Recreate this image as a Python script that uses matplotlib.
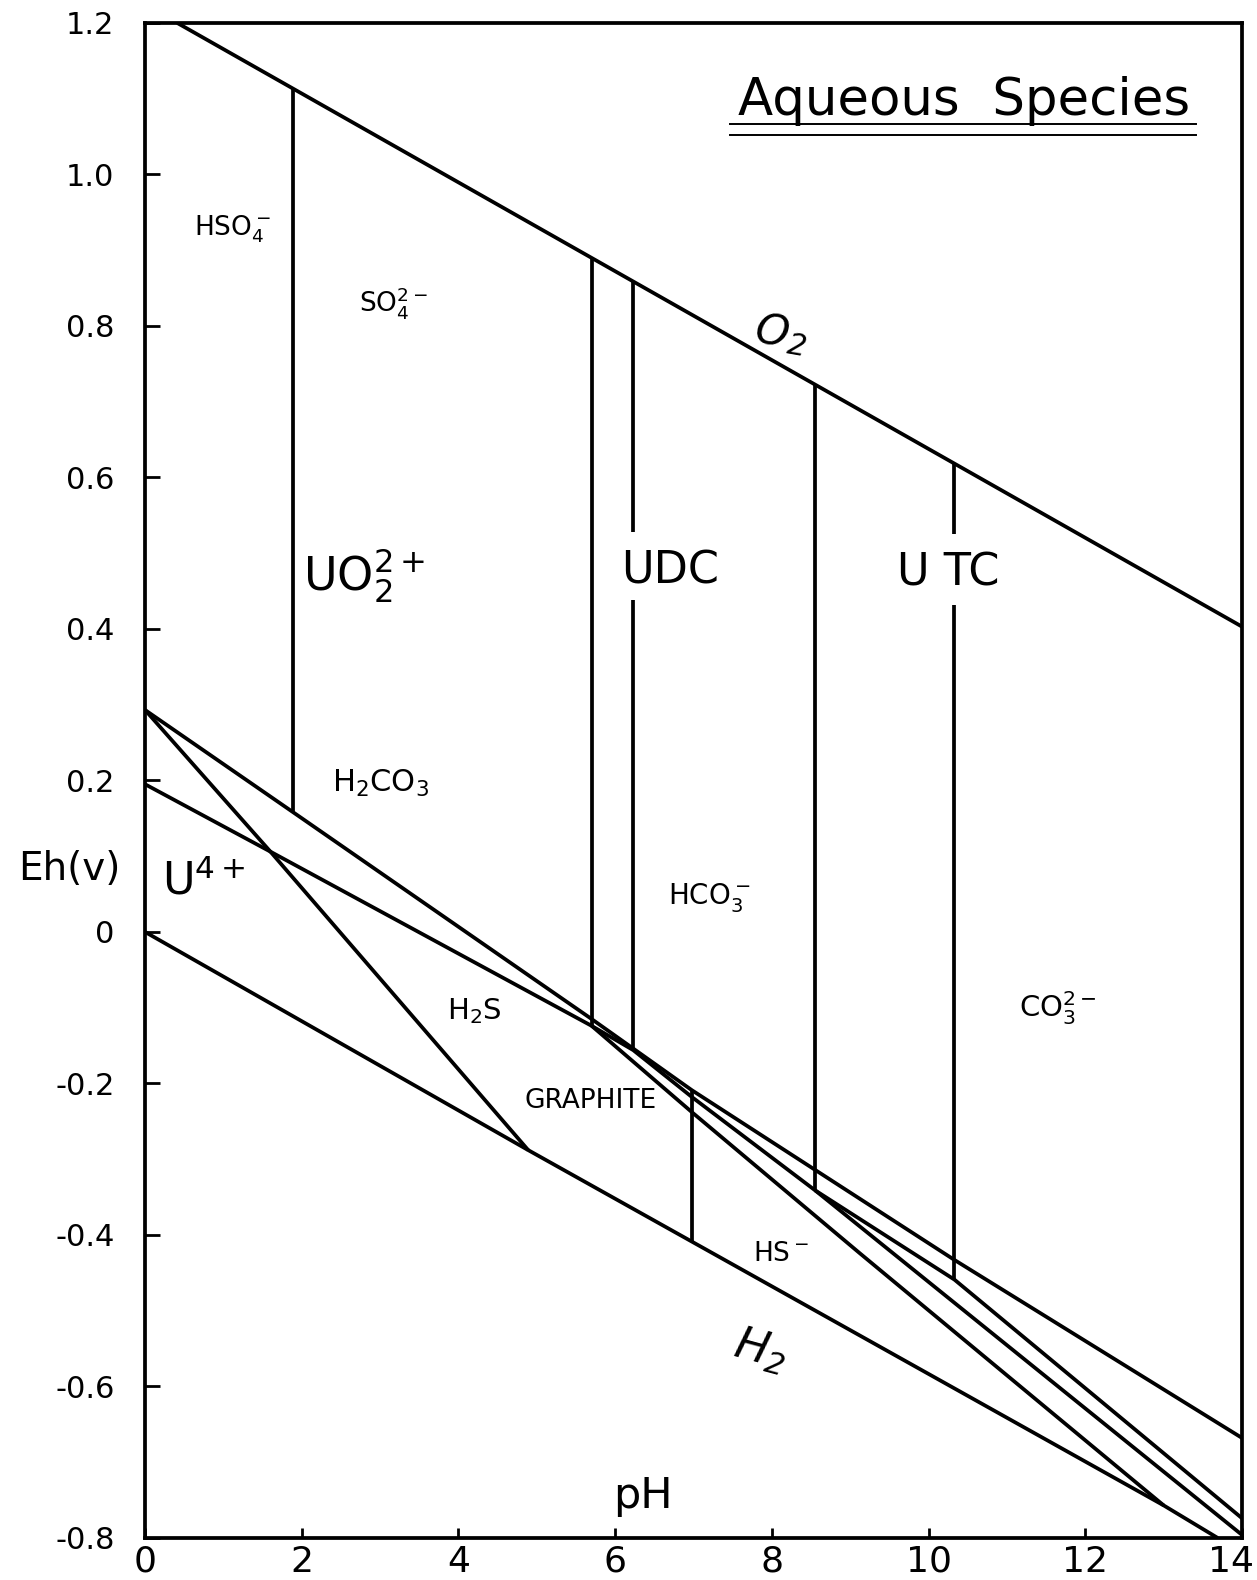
import numpy as np
import matplotlib
matplotlib.use("Agg")
import matplotlib.pyplot as plt
import matplotlib.transforms as mtransforms

plt.rcParams['font.family'] = ['DejaVu Sans']
plt.rcParams['mathtext.default'] = 'regular'

# water stability limits
o2_ph = [0.41, 14.0]
o2_eh = [1.20, 0.403]
h2_ph = [0.0, 4.89, 13.0, 13.69]
h2_eh = [0.0, -0.288, -0.757, -0.800]

# sulphate / sulphide boundary
s_ph = [0.0, 1.89, 5.70, 6.98, 8.55, 10.33, 14.0]
s_eh = [0.293, 0.158, -0.115, -0.209, -0.314, -0.433, -0.668]

# carbonate / graphite boundary
c_ph = [0.0, 1.60, 5.70, 6.23, 6.98, 8.55, 10.33, 14.0]
c_eh = [0.195, 0.106, -0.124, -0.156, -0.218, -0.341, -0.459, -0.774]

# uranium boundaries
u1_ph = [0.0, 1.60, 4.89]
u1_eh = [0.293, 0.106, -0.288]
u2_ph = [5.70, 6.98, 9.12, 13.0]
u2_eh = [-0.124, -0.238, -0.424, -0.757]
u3_ph = [8.55, 14.0]
u3_eh = [-0.341, -0.796]

# vertical boundaries hanging from the O2 line
vert_ph = [1.89, 5.70, 6.23, 8.55, 10.33]
vert_bot = [0.158, -0.124, -0.156, -0.341, -0.459]
# H2S / HS- boundary
hs_ph = 6.98
hs_top = -0.209
hs_bot = -0.409

yticks = [-0.8, -0.6, -0.4, -0.2, 0.0, 0.2, 0.4, 0.6, 0.8, 1.0, 1.2]
ylabels = ['-0.8', '-0.6', '-0.4', '-0.2', '0', '0.2', '0.4', '0.6', '0.8', '1.0', '1.2']
xticks = [0, 2, 4, 6, 8, 10, 12, 14]

fig = plt.figure(figsize=(12.57, 15.80), dpi=100)
ax = fig.add_axes([0.1154, 0.0266, 0.8727, 0.9589])
ax.set_xlim(0, 14)
ax.set_ylim(-0.8, 1.2)

lw = 2.7
kw = dict(color='black', lw=lw, solid_capstyle='butt')
for xs, ys in [(o2_ph, o2_eh), (h2_ph, h2_eh), (s_ph, s_eh), (c_ph, c_eh),
               (u1_ph, u1_eh), (u2_ph, u2_eh), (u3_ph, u3_eh)]:
    ax.plot(xs, ys, **kw)

# gaps left in two verticals for the UDC / UTC labels
gaps = {6.23: (0.438, 0.528), 10.33: (0.432, 0.525)}
for x, yb in zip(vert_ph, vert_bot):
    yt = np.interp(x, o2_ph, o2_eh)
    if x in gaps:
        g0, g1 = gaps[x]
        ax.plot([x, x], [yb, g0], **kw)
        ax.plot([x, x], [g1, yt], **kw)
    else:
        ax.plot([x, x], [yb, yt], **kw)
ax.plot([hs_ph, hs_ph], [hs_bot, hs_top], **kw)

for s in ax.spines.values():
    s.set_linewidth(lw)

ax.set_yticks(yticks)
ax.set_yticklabels(ylabels)
ax.set_xticks(xticks)
ax.tick_params(axis='y', direction='in', length=11, width=2, pad=22, labelsize=22)
ax.tick_params(axis='x', direction='in', length=7, width=2, pad=5, labelsize=26)

# last x label sits on the right edge, as in the drawing
last = ax.get_xticklabels()[-1]
last.set_horizontalalignment('right')
last.set_transform(last.get_transform() + mtransforms.ScaledTranslation(0.12, 0, fig.dpi_scale_trans))

# labels
ax.text(10.45, 1.079, 'Aqueous  Species', fontsize=37, ha='center', va='baseline')
ax.plot([7.47, 13.41], [1.066, 1.066], color='black', lw=1.4)
ax.plot([7.47, 13.41], [1.052, 1.052], color='black', lw=1.4)

ax.text(1.11, 0.927, r'HSO$_4^-$', fontsize=19, ha='center', va='center')
ax.text(3.17, 0.830, r'SO$_4^{2-}$', fontsize=19, ha='center', va='center')
ax.text(8.12, 0.790, r'$O_2$', fontsize=31, ha='center', va='center', style='italic', rotation=-10)
ax.text(2.80, 0.470, r'UO$_2^{2+}$', fontsize=33, ha='center', va='center')
ax.text(6.70, 0.477, 'UDC', fontsize=32, ha='center', va='center')
ax.text(10.25, 0.474, 'U TC', fontsize=32, ha='center', va='center')
ax.text(3.01, 0.196, r'H$_2$CO$_3$', fontsize=22, ha='center', va='center')
ax.text(0.75, 0.066, r'U$^{4+}$', fontsize=32, ha='center', va='center')
ax.text(7.20, 0.045, r'HCO$_3^-$', fontsize=20, ha='center', va='center')
ax.text(11.65, -0.100, r'CO$_3^{2-}$', fontsize=21, ha='center', va='center')
ax.text(4.20, -0.105, r'H$_2$S', fontsize=21, ha='center', va='center')
ax.text(5.68, -0.223, 'GRAPHITE', fontsize=19, ha='center', va='center')
ax.text(8.12, -0.425, r'HS$^-$', fontsize=19, ha='center', va='center')
ax.text(7.86, -0.553, r'$H_2$', fontsize=32, ha='center', va='center', style='italic', rotation=-15)
ax.text(6.35, -0.745, 'pH', fontsize=31, ha='center', va='center')
fig.text(69 / 1257, 1 - 869 / 1580, 'Eh(v)', fontsize=28, ha='center', va='center')

fig.savefig('out.png', dpi=100)
